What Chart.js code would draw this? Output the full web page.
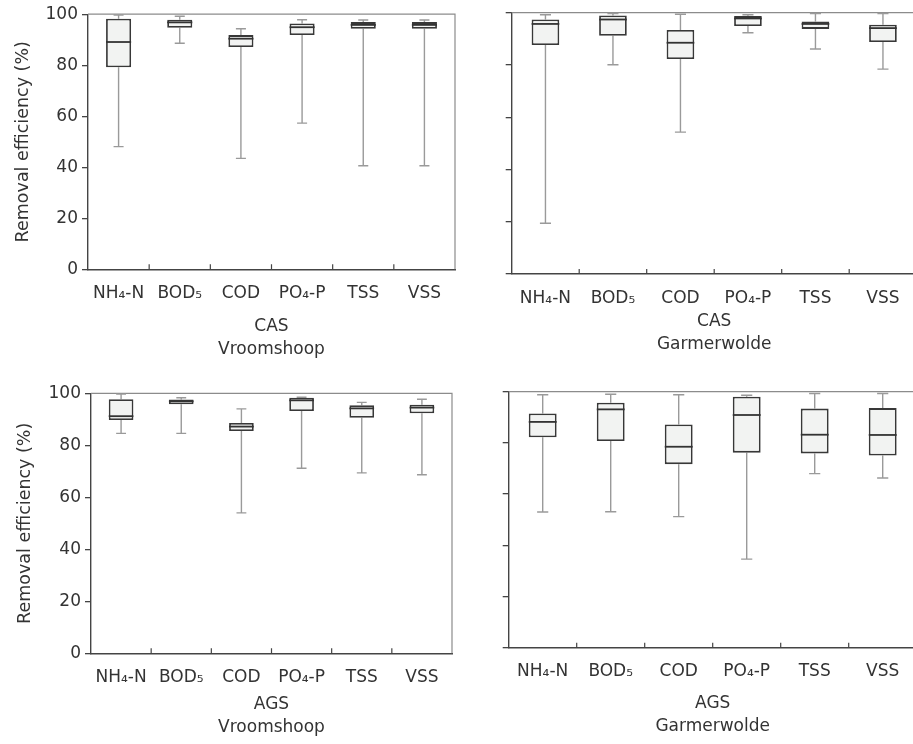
<!DOCTYPE html>
<html>
<head>
<meta charset="utf-8">
<script src="https://cdn.jsdelivr.net/npm/chart.js@4.4.1/dist/chart.umd.min.js"></script>
<style>
    html, body { margin: 0; padding: 0; background: #fff; overflow: hidden; width: 913px; height: 744px; }
    .panel { position: absolute; }
</style>
</head>
<body>
<div class="panel" style="left:0;top:0"><canvas id="casVroom" width="460" height="370"></canvas></div>
<div class="panel" style="left:460px;top:0"><canvas id="casGarm" width="460" height="370"></canvas></div>
<div class="panel" style="left:0;top:375px"><canvas id="agsVroom" width="460" height="369"></canvas></div>
<div class="panel" style="left:460px;top:375px"><canvas id="agsGarm" width="460" height="369"></canvas></div>
<script>
// categories and tick values
const categories = ['NH₄-N', 'BOD₅', 'COD', 'PO₄-P', 'TSS', 'VSS'];
const yTicks = [0, 20, 40, 60, 80, 100];

// CAS Vroomshoop (removal efficiency, %)
const casVroomMin    = [48.1, 88.6, 43.5, 57.3, 40.6, 40.6];
const casVroomQ1     = [79.2, 94.7, 87.1, 91.8, 94.3, 94.3];
const casVroomMedian = [89.1, 96.8, 90.4, 94.9, 95.8, 95.8];
const casVroomQ3     = [98.2, 97.8, 91.8, 96.4, 96.9, 96.9];
const casVroomMax    = [99.7, 99.2, 94.3, 97.8, 97.7, 97.7];

// CAS Garmerwolde
const casGarmMin    = [19.4, 80.1, 54.3, 92.3, 86.1, 78.4];
const casGarmQ1     = [87.6, 91.2, 82.3, 94.9, 93.8, 88.8];
const casGarmMedian = [95.7, 97.4, 88.5, 97.8, 95.7, 94.1];
const casGarmQ3     = [97.4, 98.9, 93.4, 98.7, 96.6, 95.4];
const casGarmMax    = [99.2, 99.7, 99.4, 99.2, 99.7, 99.7];

// AGS Vroomshoop
const agsVroomMin    = [84.6, 84.6, 54.0, 71.2, 69.4, 68.7];
const agsVroomQ1     = [89.7, 95.8, 85.5, 93.2, 90.6, 92.3];
const agsVroomMedian = [91.2, 96.9, 87.2, 97.3, 94.2, 94.5];
const agsVroomQ3     = [97.7, 97.6, 88.6, 98.3, 95.4, 95.6];
const agsVroomMax    = [99.7, 98.3, 94.0, 98.5, 96.5, 97.7];

// AGS Garmerwolde
const agsGarmMin    = [53.0, 53.1, 51.2, 34.6, 68.0, 66.3];
const agsGarmQ1     = [82.2, 80.7, 71.7, 76.2, 75.9, 75.1];
const agsGarmMedian = [88.2, 93.1, 78.5, 90.9, 83.2, 83.1];
const agsGarmQ3     = [91.5, 95.7, 87.2, 98.0, 93.4, 93.6];
const agsGarmMax    = [98.8, 99.0, 98.8, 98.6, 99.3, 99.3];

// the figure's lettering is wide, DejaVu Sans matches its widths better than Arial
Chart.defaults.font.family = "'DejaVu Sans', 'Liberation Sans', Arial, sans-serif";
Chart.defaults.color = '#333';

// whiskers + caps behind the boxes, median line on top
const boxPlot = {
    id: 'boxPlot',
    beforeDatasetsDraw(chart) {
        const ctx = chart.ctx;
        const y = chart.scales.y;
        const ds = chart.data.datasets[0];
        const meta = chart.getDatasetMeta(0);
        ctx.save();
        ctx.strokeStyle = '#9a9a9a';
        ctx.lineWidth = 1.4;
        meta.data.forEach((bar, i) => {
            const capHalf = bar.width * 0.2;
            const yMin = y.getPixelForValue(ds.whiskerMin[i]);
            const yMax = y.getPixelForValue(ds.whiskerMax[i]);
            const yQ1 = y.getPixelForValue(ds.data[i][0]);
            const yQ3 = y.getPixelForValue(ds.data[i][1]);
            ctx.beginPath();
            ctx.moveTo(bar.x, yQ1); ctx.lineTo(bar.x, yMin);
            ctx.moveTo(bar.x, yQ3); ctx.lineTo(bar.x, yMax);
            ctx.moveTo(bar.x - capHalf, yMin); ctx.lineTo(bar.x + capHalf, yMin);
            ctx.moveTo(bar.x - capHalf, yMax); ctx.lineTo(bar.x + capHalf, yMax);
            ctx.stroke();
        });
        ctx.restore();
    },
    afterDatasetsDraw(chart) {
        const ctx = chart.ctx;
        const y = chart.scales.y;
        const ds = chart.data.datasets[0];
        const meta = chart.getDatasetMeta(0);
        ctx.save();
        ctx.strokeStyle = '#333';
        ctx.lineWidth = 1.8;
        meta.data.forEach((bar, i) => {
            const ym = y.getPixelForValue(ds.median[i]);
            ctx.beginPath();
            ctx.moveTo(bar.x - bar.width / 2, ym);
            ctx.lineTo(bar.x + bar.width / 2, ym);
            ctx.stroke();
        });
        ctx.restore();
    }
};

// grey top/right frame and small inward ticks between categories
const frame = {
    id: 'frame',
    beforeDatasetsDraw(chart) {
        const { ctx, chartArea: { left, right, top, bottom }, scales: { x } } = chart;
        ctx.save();
        ctx.strokeStyle = '#8c8c8c';
        ctx.lineWidth = 1.2;
        ctx.beginPath();
        ctx.moveTo(left, top);
        ctx.lineTo(right, top);
        ctx.lineTo(right, bottom);
        ctx.stroke();
        ctx.strokeStyle = '#444';
        ctx.beginPath();
        for (let i = 1; i < categories.length; i++) {
            const px = (x.getPixelForValue(i - 1) + x.getPixelForValue(i)) / 2;
            ctx.moveTo(px, bottom);
            ctx.lineTo(px, bottom - 5);
        }
        ctx.stroke();
        ctx.restore();
    }
};

function buildPanel(id, min, q1, median, q3, max, titleLines, lay) {
    new Chart(document.getElementById(id), {
        type: 'bar',
        data: {
            labels: categories,
            datasets: [{
                data: q1.map((v, i) => [v, q3[i]]),
                whiskerMin: min,
                whiskerMax: max,
                median: median,
                backgroundColor: '#f2f3f2',
                borderColor: '#383838',
                borderWidth: 1.8,
                borderSkipped: false,
                barPercentage: 0.41,
                categoryPercentage: 1
            }]
        },
        options: {
            responsive: false,
            animation: false,
            layout: { padding: { left: 0, top: lay.top, right: lay.right, bottom: lay.bottom } },
            plugins: { legend: { display: false }, tooltip: { enabled: false } },
            scales: {
                x: {
                    grid: { display: false, drawTicks: false },
                    border: { color: '#444', width: 1.4 },
                    ticks: { font: { size: 17 }, padding: lay.tickPad, color: '#333', maxRotation: 0, autoSkip: false },
                    title: {
                        display: true,
                        text: titleLines,
                        font: { size: 17, lineHeight: lay.titleLh },
                        padding: 0,
                        color: '#333'
                    },
                    afterFit(s) { s.height = lay.xHeight; }
                },
                y: {
                    min: 0,
                    max: 100,
                    afterBuildTicks(s) { s.ticks = yTicks.map(v => ({ value: v })); },
                    ticks: { display: lay.yLabels, font: { size: 17 }, padding: 4, color: '#333' },
                    grid: { drawOnChartArea: false, tickLength: 6, color: '#444', lineWidth: 1.3 },
                    border: { color: '#444', width: 1.4 },
                    title: {
                        display: lay.yLabels,
                        text: 'Removal efficiency (%)',
                        font: { size: 17.5 },
                        padding: { top: lay.yTitlePad || 0, bottom: 0 },
                        color: '#333'
                    },
                    afterFit(s) { s.width = lay.yWidth; }
                }
            }
        },
        plugins: [frame, boxPlot]
    });
}

buildPanel('casVroom', casVroomMin, casVroomQ1, casVroomMedian, casVroomQ3, casVroomMax, ['CAS', 'Vroomshoop'],
    { top: 12.7, right: 5, bottom: 8.1, yWidth: 88, xHeight: 92.6, tickPad: 13.8, titleLh: 1.4, yTitlePad: 12.5, yLabels: true });
buildPanel('casGarm', casGarmMin, casGarmQ1, casGarmMedian, casGarmQ3, casGarmMax, ['CAS', 'Garmerwolde'],
    { top: 12.7, right: 3.3, bottom: 13.35, yWidth: 51.7, xHeight: 82.65, tickPad: 14.1, titleLh: 1.37, yLabels: false });
buildPanel('agsVroom', agsVroomMin, agsVroomQ1, agsVroomMedian, agsVroomQ3, agsVroomMax, ['AGS', 'Vroomshoop'],
    { top: 18.3, right: 8, bottom: 4.95, yWidth: 91, xHeight: 85.75, tickPad: 14.2, titleLh: 1.335, yTitlePad: 14.5, yLabels: true });
buildPanel('agsGarm', agsGarmMin, agsGarmQ1, agsGarmMedian, agsGarmQ3, agsGarmMax, ['AGS', 'Garmerwolde'],
    { top: 16.7, right: 3.3, bottom: 5.6, yWidth: 48.7, xHeight: 90.7, tickPad: 13.8, titleLh: 1.376, yLabels: false });
</script>
</body>
</html>
